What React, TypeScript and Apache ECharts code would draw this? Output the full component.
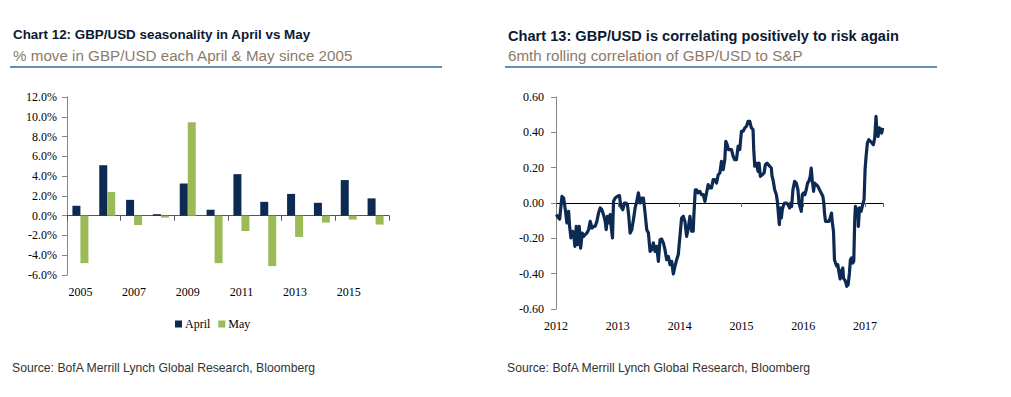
import React, { useEffect, useRef } from "react";
import * as echarts from "echarts";

const years = ["2005", "2006", "2007", "2008", "2009", "2010", "2011", "2012", "2013", "2014", "2015", "2016"];
const aprilMoves = [1.0, 5.1, 1.6, 0.15, 3.25, 0.6, 4.2, 1.4, 2.2, 1.3, 3.6, 1.75];
const mayMoves = [-4.8, 2.4, -0.95, -0.2, 9.45, -4.8, -1.55, -5.1, -2.15, -0.7, -0.4, -0.9];

const corrDates = [
  2012.005, 2012.043, 2012.059, 2012.097, 2012.124, 2012.151, 2012.177, 2012.204, 2012.22, 2012.242,
  2012.269, 2012.285, 2012.306, 2012.328, 2012.349, 2012.376, 2012.398, 2012.425, 2012.446, 2012.473,
  2012.5, 2012.527, 2012.554, 2012.581, 2012.608, 2012.634, 2012.661, 2012.688, 2012.715, 2012.742,
  2012.769, 2012.796, 2012.812, 2012.833, 2012.855, 2012.876, 2012.892, 2012.914, 2012.93, 2012.957,
  2012.995, 2013.027, 2013.048, 2013.081, 2013.108, 2013.134, 2013.156, 2013.177, 2013.199, 2013.226,
  2013.253, 2013.28, 2013.306, 2013.333, 2013.36, 2013.387, 2013.414, 2013.441, 2013.468, 2013.495,
  2013.522, 2013.548, 2013.575, 2013.602, 2013.629, 2013.656, 2013.683, 2013.71, 2013.737, 2013.763,
  2013.79, 2013.817, 2013.844, 2013.871, 2013.898, 2013.925, 2013.952, 2013.978, 2014.005, 2014.032,
  2014.059, 2014.086, 2014.113, 2014.14, 2014.167, 2014.194, 2014.22, 2014.231, 2014.253, 2014.274,
  2014.301, 2014.328, 2014.355, 2014.382, 2014.409, 2014.435, 2014.462, 2014.489, 2014.516, 2014.543,
  2014.57, 2014.597, 2014.624, 2014.651, 2014.677, 2014.704, 2014.731, 2014.747, 2014.769, 2014.79,
  2014.812, 2014.839, 2014.866, 2014.892, 2014.919, 2014.946, 2014.973, 2015.0, 2015.027, 2015.054,
  2015.081, 2015.108, 2015.134, 2015.161, 2015.188, 2015.199, 2015.215, 2015.242, 2015.269, 2015.285,
  2015.306, 2015.339, 2015.366, 2015.387, 2015.414, 2015.435, 2015.457, 2015.484, 2015.495, 2015.511,
  2015.538, 2015.565, 2015.581, 2015.597, 2015.613, 2015.629, 2015.645, 2015.661, 2015.683, 2015.699,
  2015.726, 2015.753, 2015.78, 2015.796, 2015.812, 2015.833, 2015.86, 2015.887, 2015.914, 2015.93,
  2015.952, 2015.968, 2015.984, 2016.005, 2016.027, 2016.048, 2016.07, 2016.091, 2016.113, 2016.129,
  2016.145, 2016.167, 2016.183, 2016.21, 2016.237, 2016.263, 2016.29, 2016.317, 2016.333, 2016.344,
  2016.36, 2016.387, 2016.414, 2016.435, 2016.457, 2016.468, 2016.489, 2016.505, 2016.522, 2016.543,
  2016.559, 2016.575, 2016.597, 2016.613, 2016.64, 2016.651, 2016.667, 2016.683, 2016.704, 2016.726,
  2016.747, 2016.763, 2016.78, 2016.801, 2016.817, 2016.833, 2016.844, 2016.866, 2016.882, 2016.892,
  2016.909, 2016.935, 2016.962, 2016.984, 2017.0, 2017.016, 2017.038, 2017.059, 2017.086, 2017.113,
  2017.134, 2017.156, 2017.177, 2017.194, 2017.21, 2017.231, 2017.253, 2017.269, 2017.285,
];
const corrValues = [
  -0.066, -0.085, -0.091, 0.038, 0.028, -0.038, -0.113, -0.047, -0.132, -0.198,
  -0.16, -0.17, -0.245, -0.132, -0.236, -0.132, -0.255, -0.17, -0.189, -0.179,
  -0.17, -0.151, -0.104, -0.142, -0.132, -0.132, -0.104, -0.057, -0.028, -0.038,
  -0.066, -0.104, -0.151, -0.075, -0.113, -0.066, -0.132, -0.198, 0.009, 0.028,
  0.038, 0.042, -0.019, -0.038, 0.0, 0.0, -0.009, -0.075, -0.17, -0.151,
  -0.094, -0.028, 0.009, 0.057, 0.0, 0.028, 0.028, -0.057, -0.151, -0.17,
  -0.274, -0.264, -0.226, -0.274, -0.245, -0.33, -0.208, -0.204, -0.226, -0.264,
  -0.321, -0.302, -0.349, -0.33, -0.402, -0.358, -0.321, -0.292, -0.189, -0.085,
  -0.075, -0.104, -0.189, -0.142, -0.075, -0.16, -0.16, -0.066, 0.075, 0.075,
  0.057, 0.066, 0.047, 0.047, 0.009, 0.057, 0.104, 0.085, 0.085, 0.132,
  0.132, 0.113, 0.16, 0.17, 0.236, 0.189, 0.245, 0.349, 0.33, 0.302,
  0.302, 0.302, 0.264, 0.245, 0.245, 0.321, 0.302, 0.406, 0.406, 0.425,
  0.434, 0.462, 0.462, 0.425, 0.415, 0.302, 0.208, 0.226, 0.179, 0.226,
  0.151, 0.16, 0.17, 0.217, 0.226, 0.217, 0.208, 0.198, 0.151, 0.132,
  0.075, 0.047, 0.009, -0.057, -0.123, -0.028, -0.085, -0.038, -0.009, 0.0,
  0.0, -0.009, -0.028, 0.0, -0.019, 0.075, 0.123, 0.113, 0.075, 0.0,
  -0.028, -0.047, 0.047, 0.057, 0.047, 0.075, 0.113, 0.123, 0.151, 0.198,
  0.132, 0.066, 0.113, 0.104, 0.094, 0.075, 0.057, 0.038, 0.0, -0.057,
  -0.104, -0.104, -0.104, -0.085, -0.057, -0.104, -0.16, -0.321, -0.34, -0.358,
  -0.349, -0.387, -0.43, -0.387, -0.368, -0.425, -0.434, -0.443, -0.472, -0.462,
  -0.396, -0.321, -0.311, -0.34, -0.33, -0.094, -0.019, -0.038, -0.038, -0.132,
  -0.028, -0.047, -0.009, 0.019, 0.189, 0.264, 0.34, 0.358, 0.349, 0.34,
  0.33, 0.368, 0.491, 0.387, 0.377, 0.425, 0.415, 0.396, 0.425,
];

const SANS = "'Liberation Sans', Arial, sans-serif";
const SERIF = "'Liberation Serif', 'Times New Roman', serif";
const NAVY = "#0c2a52";
const GREEN = "#9bbb59";

export default function App() {
  const ref = useRef<HTMLDivElement>(null);

  useEffect(() => {
    document.body.style.margin = "0";
    if (!ref.current) return;
    const chart = echarts.init(ref.current, undefined, { renderer: "svg" });
    const corrData = corrDates.map((d, i) => [d, corrValues[i]]);

    const axisLabelSerif = { fontFamily: SERIF, fontSize: 12, color: "#000" };

    chart.setOption({
      animation: false,
      backgroundColor: "#fff",
      grid: [
        { left: 67, top: 97, width: 322, height: 178, containLabel: false },
        { left: 556, top: 97, width: 327, height: 212, containLabel: false },
      ],
      legend: {
        data: ["April", "May"],
        left: 170,
        top: 313,
        itemWidth: 7,
        itemHeight: 7,
        itemGap: 8,
        icon: "rect",
        textStyle: { fontFamily: SERIF, fontSize: 12, color: "#000", padding: [0, 0, 0, -2] },
      },
      xAxis: [
        {
          type: "category",
          gridIndex: 0,
          data: years,
          axisLine: { show: false, onZero: false },
          axisTick: { show: false },
          axisLabel: { ...axisLabelSerif, interval: 1, margin: 11 },
        },
        {
          type: "category",
          gridIndex: 0,
          data: years,
          position: "bottom",
          axisLine: { show: true, onZero: true, lineStyle: { color: "#555", width: 1 } },
          axisTick: { show: true, interval: 1, length: 5, lineStyle: { color: "#555" } },
          axisLabel: { show: false },
        },
        {
          type: "value",
          gridIndex: 1,
          min: 2012,
          max: 2017.29,
          interval: 1,
          splitLine: { show: false },
          axisLine: { show: false, onZero: false },
          axisTick: { show: false },
          axisLabel: {
            ...axisLabelSerif,
            margin: 11,
            formatter: (v: number) => (Math.abs(v - Math.round(v)) < 1e-6 ? String(Math.round(v)) : ""),
          },
        },
        {
          type: "value",
          gridIndex: 1,
          min: 2012,
          max: 2017.29,
          interval: 1,
          position: "bottom",
          splitLine: { show: false },
          axisLine: { show: true, onZero: true, lineStyle: { color: "#000", width: 1 } },
          axisTick: { show: true, length: 4, lineStyle: { color: "#666" } },
          axisLabel: { show: false },
        },
      ],
      yAxis: [
        {
          type: "value",
          gridIndex: 0,
          min: -6,
          max: 12,
          interval: 2,
          splitLine: { show: false },
          axisLine: { show: true, lineStyle: { color: "#868686" } },
          axisTick: { show: true, length: 5, lineStyle: { color: "#868686" } },
          axisLabel: { ...axisLabelSerif, margin: 10, formatter: (v: number) => v.toFixed(1) + "%" },
        },
        {
          type: "value",
          gridIndex: 1,
          min: -0.6,
          max: 0.6,
          interval: 0.2,
          splitLine: { show: false },
          axisLine: { show: true, lineStyle: { color: "#868686" } },
          axisTick: { show: true, length: 5, lineStyle: { color: "#868686" } },
          axisLabel: { ...axisLabelSerif, margin: 12, formatter: (v: number) => v.toFixed(2) },
        },
      ],
      series: [
        {
          name: "April",
          type: "bar",
          xAxisIndex: 0,
          yAxisIndex: 0,
          data: aprilMoves,
          barWidth: 8,
          barGap: "0%",
          itemStyle: { color: NAVY },
        },
        {
          name: "May",
          type: "bar",
          xAxisIndex: 0,
          yAxisIndex: 0,
          data: mayMoves,
          barWidth: 8,
          barGap: "0%",
          itemStyle: { color: GREEN },
        },
        {
          name: "Correlation",
          type: "line",
          xAxisIndex: 2,
          yAxisIndex: 1,
          data: corrData,
          showSymbol: false,
          symbol: "none",
          lineStyle: { color: NAVY, width: 3.2, join: "round" },
          z: 5,
        },
      ],
      graphic: [
        {
          type: "text",
          left: 13,
          top: 28,
          style: { text: "Chart 12: GBP/USD seasonality in April vs May", font: `bold 13.4px ${SANS}`, fill: "#0b1a33" },
        },
        {
          type: "text",
          left: 13,
          top: 48,
          style: { text: "% move in GBP/USD each April & May since 2005", font: `15.2px ${SANS}`, fill: "#8b7b6b" },
        },
        {
          type: "line",
          shape: { x1: 10, y1: 67, x2: 442, y2: 67 },
          style: { stroke: "#6a8cbd", lineWidth: 2 },
        },
        {
          type: "text",
          left: 508,
          top: 28,
          style: { text: "Chart 13: GBP/USD is correlating positively to risk again", font: `bold 14.6px ${SANS}`, fill: "#0b1a33" },
        },
        {
          type: "text",
          left: 508,
          top: 48,
          style: { text: "6mth rolling correlation of GBP/USD to S&P", font: `15.2px ${SANS}`, fill: "#8b7b6b" },
        },
        {
          type: "line",
          shape: { x1: 505, y1: 67, x2: 937, y2: 67 },
          style: { stroke: "#6a8cbd", lineWidth: 2 },
        },
        {
          type: "text",
          left: 12,
          top: 362,
          style: { text: "Source: BofA Merrill Lynch Global Research, Bloomberg", font: `12.2px ${SANS}`, fill: "#333" },
        },
        {
          type: "text",
          left: 507,
          top: 362,
          style: { text: "Source: BofA Merrill Lynch Global Research, Bloomberg", font: `12.2px ${SANS}`, fill: "#333" },
        },
      ],
    });

    return () => chart.dispose();
  }, []);

  return <div ref={ref} style={{ width: 1011, height: 397 }} />;
}
